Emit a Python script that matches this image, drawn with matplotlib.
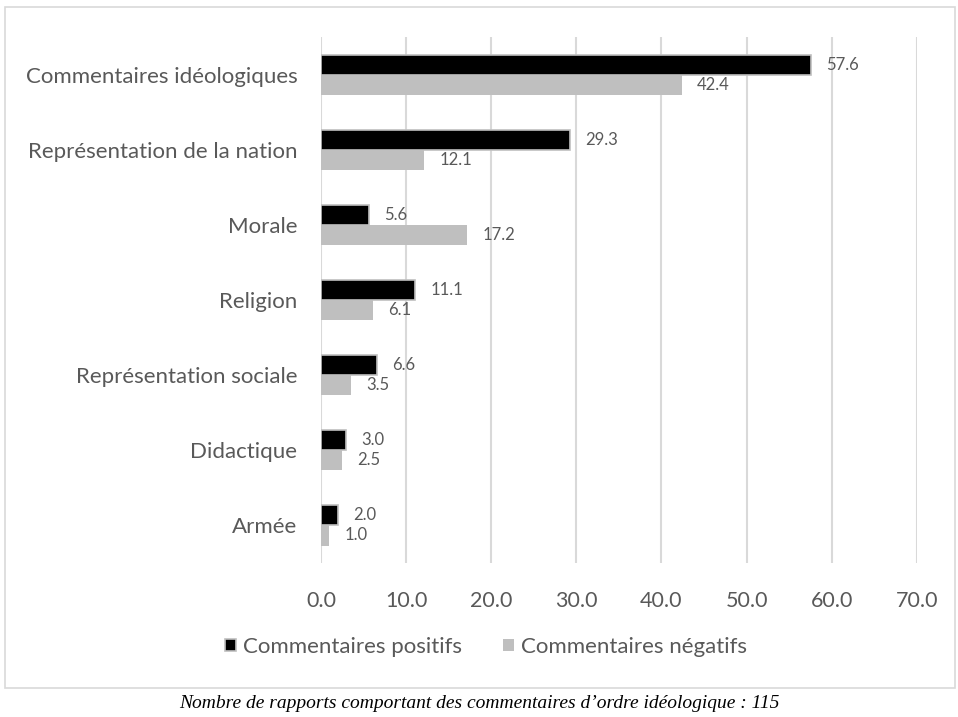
import numpy as np
import matplotlib
matplotlib.use("Agg")
import matplotlib.pyplot as plt
from matplotlib.patches import Rectangle

# Share of reports (%) by type of ideological comment
categories = ["Commentaires idéologiques", "Représentation de la nation", "Morale",
              "Religion", "Représentation sociale", "Didactique", "Armée"]
positifs = [57.6, 29.3, 5.6, 11.1, 6.6, 3.0, 2.0]
negatifs = [42.4, 12.1, 17.2, 6.1, 3.5, 2.5, 1.0]
xticks = [0, 10, 20, 30, 40, 50, 60, 70]

TEXT = "#595959"
GRID = "#d9d9d9"
plt.rcParams["font.family"] = ["Lato", "DejaVu Sans"]

fig = plt.figure(figsize=(9.58, 7.17), dpi=100)
ax = fig.add_axes([0.335, 0.215, 0.622, 0.733])

y = np.arange(len(categories))[::-1]
h = 0.27
ax.barh(y + h / 2, positifs, height=h, color="black", edgecolor="#bfbfbf", linewidth=1.2,
        label="Commentaires positifs", zorder=3)
ax.barh(y - h / 2, negatifs, height=h, color="#bfbfbf", label="Commentaires négatifs", zorder=3)

for yi, p, n in zip(y, positifs, negatifs):
    ax.annotate(f"{p:.1f}", (p, yi + h / 2), xytext=(11, 0), textcoords="offset points",
                va="center", ha="left", fontsize=12, color=TEXT)
    ax.annotate(f"{n:.1f}", (n, yi - h / 2), xytext=(11, 0), textcoords="offset points",
                va="center", ha="left", fontsize=12, color=TEXT)

ax.set_xlim(0, 70)
ax.set_ylim(-0.5, 6.5)
ax.set_xticks(xticks)
ax.set_xticklabels([f"{v:.1f}" for v in xticks])
ax.set_yticks(y)
ax.set_yticklabels(categories)
ax.tick_params(axis="both", length=0, colors=TEXT)
ax.tick_params(axis="x", pad=20, labelsize=15.5)
ax.tick_params(axis="y", pad=17, labelsize=16)
ax.grid(axis="x", color=GRID, linewidth=1.5, zorder=0)
for s in ax.spines.values():
    s.set_visible(False)

leg = fig.legend(loc="center", bbox_to_anchor=(486 / 958, 1 - 647 / 717), ncol=2, frameon=False,
                 fontsize=16, handlelength=0.5, handleheight=0.5, handletextpad=0.3,
                 columnspacing=1.85)
for t in leg.get_texts():
    t.set_color(TEXT)

# outer chart frame
fig.patches.append(Rectangle((5 / 958, 1 - 688 / 717), 950 / 958, 681 / 717,
                             transform=fig.transFigure, fill=False, edgecolor=GRID,
                             linewidth=1.2))

fig.text(0.5, 1 - 703 / 717,
         "Nombre de rapports comportant des commentaires d\u2019ordre idéologique : 115",
         ha="center", va="center", fontsize=14, style="italic",
         family=["Liberation Serif", "DejaVu Serif"], color="black")

fig.savefig("out.png", dpi=100)
